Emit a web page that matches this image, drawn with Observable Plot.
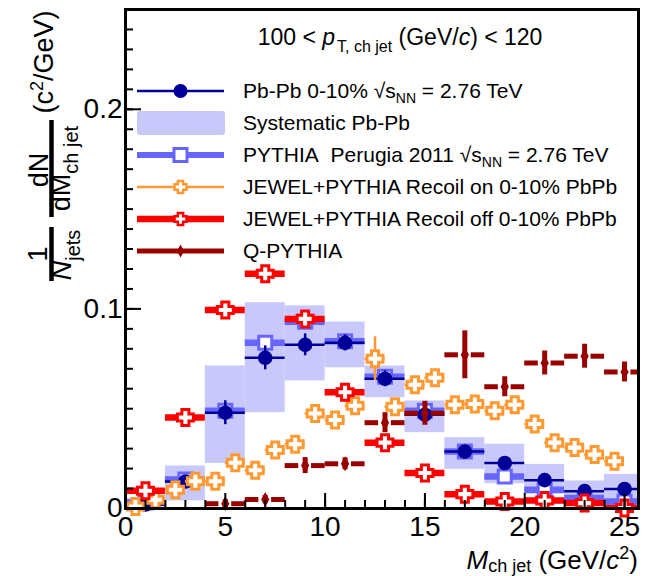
<!DOCTYPE html>
<html><head><meta charset="utf-8">
<script src="https://cdn.jsdelivr.net/npm/d3@7"></script>
<script src="https://cdn.jsdelivr.net/npm/@observablehq/plot@0.6"></script>
<style>body{margin:0;background:#fff} svg{display:block}</style>
</head><body><div id="chart"></div>
<script>
// ---- data ----
const binCenters = [1, 3, 5, 7, 9, 11, 13, 15, 17, 19, 21, 23, 25];
const binWidth = 2;
const pbpb    = [0.002, 0.0135, 0.048, 0.0755, 0.082, 0.083, 0.065, 0.047, 0.0285, 0.0228, 0.0142, 0.0087, 0.0098];
const pbpbErr = [0.001, 0.002, 0.006, 0.006, 0.0055, 0.004, 0.004, 0.003, 0.002, 0.002, 0.002, 0.0015, 0.002];
const sysLow  = [0.0, 0.0038, 0.0226, 0.048, 0.0639, 0.0705, 0.0555, 0.038, 0.0196, 0.0124, 0.0071, 0.0021, 0.0004];
const sysHigh = [0.005, 0.0213, 0.0714, 0.1031, 0.1015, 0.0934, 0.0714, 0.0539, 0.0355, 0.0322, 0.0221, 0.0138, 0.0171];
const pythia  = [0.003, 0.0145, 0.049, 0.083, 0.0935, 0.0838, 0.066, 0.049, 0.0285, 0.016, 0.0094, 0.0052, 0.0035];

const jewelOnCenters = [0.5, 1.5, 2.5, 3.5, 4.5, 5.5, 6.5, 7.5, 8.5, 9.5, 10.5, 11.5, 12.5, 13.5, 14.5, 15.5, 16.5, 17.5, 18.5, 19.5, 20.5, 21.5, 22.5, 23.5, 24.5];
const jewelOnWidth = 1;
const jewelOn = [0.001, 0.0044, 0.0094, 0.0136, 0.0136, 0.0229, 0.0192, 0.0293, 0.0322, 0.0476, 0.0443, 0.0515, 0.075, 0.051, 0.062, 0.0655, 0.052, 0.0524, 0.049, 0.052, 0.0423, 0.033, 0.0305, 0.027, 0.0237];
const jewelOnErr = [0.001, 0.001, 0.001, 0.001, 0.001, 0.0015, 0.0015, 0.0015, 0.0015, 0.002, 0.002, 0.002, 0.011, 0.002, 0.002, 0.002, 0.002, 0.002, 0.002, 0.002, 0.002, 0.002, 0.002, 0.002, 0.002];

const jewelOff = [0.0089, 0.0456, 0.0995, 0.1176, 0.095, 0.0582, 0.033, 0.0178, 0.0072, 0.0035, 0.004, 0.0027, 0.0003];

const qCenters = [5, 7, 9, 11, 13, 15, 17, 19, 21, 23, 25];
const qPythia  = [0.0024, 0.0045, 0.0215, 0.0224, 0.043, 0.0477, 0.077, 0.061, 0.0729, 0.0763, 0.0684];
const qPythiaErr = [0.002, 0.002, 0.004, 0.003, 0.005, 0.006, 0.012, 0.005, 0.006, 0.006, 0.005];
const qGap = 0.32; // half-gap of the bin bar around the marker (x units)

const xMajor = [0, 5, 10, 15, 20, 25];
const xMinor = d3.range(0, 26, 1);
const yMajor = [0, 0.1, 0.2];
const yMinor = d3.range(0, 0.2501, 0.01);

// ---- colours ----
const NAVY = "#000099", SYS = "#c8c8fa", PYC = "#6666ff", ORANGE = "#ff9933", RED = "#ff0000", DRED = "#990000";
const FONT = "'Liberation Sans', Arial, Helvetica, sans-serif";

// ---- tables ----
const pbData = binCenters.map((x, i) => ({x, y: pbpb[i], e: pbpbErr[i], lo: sysLow[i], hi: sysHigh[i]}));
const pyData = binCenters.map((x, i) => ({x, y: pythia[i]}));
const onData = jewelOnCenters.map((x, i) => ({x, y: jewelOn[i], e: jewelOnErr[i]}));
const offData = binCenters.map((x, i) => ({x, y: jewelOff[i]}));
const qData = qCenters.map((x, i) => ({x, y: qPythia[i], e: qPythiaErr[i]}));

// ---- custom marker shapes ----
function poly(pts) {
  return {draw(ctx, size) {
    const s = Math.sqrt(size / Math.PI);
    pts.forEach(([px, py], i) => i ? ctx.lineTo(px * s, py * s) : ctx.moveTo(px * s, py * s));
    ctx.closePath();
  }};
}
const A = 0.44;
const crossPts = [[-A,-1],[A,-1],[A,-A],[1,-A],[1,A],[A,A],[A,1],[-A,1],[-A,A],[-1,A],[-1,-A],[-A,-A]];
const crossSym = poly(crossPts);
const squarePts = [[-1,-1],[1,-1],[1,1],[-1,1]];
const squareSym = poly(squarePts);
const diamondPts = [[0,-1],[0.55,0],[0,1],[-0.55,0]];
const diamondSym = poly(diamondPts);

const svg = Plot.plot({
  width: 651, height: 576,
  marginLeft: 125, marginRight: 13, marginTop: 9, marginBottom: 68,
  x: {domain: [0, 25.7]},
  y: {domain: [0, 0.25]},
  style: {fontFamily: FONT, color: "black", background: "white"},
  marks: [
    // systematic boxes
    Plot.rect(pbData, {x1: d => d.x - binWidth / 2, x2: d => d.x + binWidth / 2, y1: "lo", y2: "hi", fill: SYS, clip: true}),
    // PYTHIA
    Plot.ruleY(pyData, {x1: d => d.x - binWidth / 2, x2: d => d.x + binWidth / 2, y: "y", stroke: PYC, strokeWidth: 6.5, clip: true}),
    Plot.dot(pyData, {x: "x", y: "y", symbol: squareSym, r: 6.5, stroke: PYC, strokeWidth: 3, fill: "white"}),
    // Pb-Pb data
    Plot.ruleY(pbData, {x1: d => d.x - binWidth / 2, x2: d => d.x + binWidth / 2, y: "y", stroke: NAVY, strokeWidth: 2.5, clip: true}),
    Plot.ruleX(pbData, {x: "x", y1: d => d.y - d.e, y2: d => d.y + d.e, stroke: NAVY, strokeWidth: 2.5}),
    Plot.dot(pbData, {x: "x", y: "y", r: 7.3, fill: NAVY, stroke: null}),
    // JEWEL recoil on
    Plot.ruleY(onData, {x1: d => d.x - jewelOnWidth / 2, x2: d => d.x + jewelOnWidth / 2, y: "y", stroke: ORANGE, strokeWidth: 2.5}),
    Plot.ruleX(onData, {x: "x", y1: d => d.y - d.e, y2: d => d.y + d.e, stroke: ORANGE, strokeWidth: 2.5}),
    Plot.dot(onData, {x: "x", y: "y", symbol: crossSym, r: 8, stroke: ORANGE, strokeWidth: 3, fill: "white"}),
    // JEWEL recoil off
    Plot.ruleY(offData, {x1: d => d.x - binWidth / 2, x2: d => d.x + binWidth / 2, y: "y", stroke: RED, strokeWidth: 6.5, clip: true}),
    Plot.dot(offData, {x: "x", y: "y", symbol: crossSym, r: 8, stroke: RED, strokeWidth: 3, fill: "white"}),
    // Q-PYTHIA
    Plot.ruleY(qData, {x1: d => d.x - binWidth / 2, x2: d => d.x - qGap, y: "y", stroke: DRED, strokeWidth: 5}),
    Plot.ruleY(qData, {x1: d => d.x + qGap, x2: d => d.x + binWidth / 2, y: "y", stroke: DRED, strokeWidth: 5, clip: true}),
    Plot.ruleX(qData, {x: "x", y1: d => d.y - d.e, y2: d => d.y + d.e, stroke: DRED, strokeWidth: 5}),
    Plot.dot(qData, {x: "x", y: "y", symbol: diamondSym, r: 7.5, fill: DRED, stroke: null}),
    // axes (inward ticks)
    Plot.axisX({ticks: xMinor, tickSize: -8, tickFormat: () => "", strokeWidth: 2, label: null}),
    Plot.axisX({ticks: xMajor, tickSize: -15, tickPadding: 23, tickFormat: d => String(d), fontSize: 28, strokeWidth: 2, label: null}),
    Plot.axisY({ticks: yMinor, tickSize: -8, tickFormat: () => "", strokeWidth: 2, label: null}),
    Plot.axisY({ticks: yMajor, tickSize: -16, tickPadding: 19, tickFormat: d => String(d), fontSize: 28, strokeWidth: 2, label: null}),
    Plot.frame({stroke: "black", strokeWidth: 3})
  ]
});
document.getElementById("chart").appendChild(svg);

// ---- annotations: title, legend, axis titles ----
const S = d3.select(svg);
const g = S.append("g").attr("font-family", FONT).attr("fill", "black");

function addText(parent, x, y, size, anchor, parts, rotate) {
  const t = parent.append("text")
    .attr("font-size", size).attr("text-anchor", anchor)
    .attr("transform", `translate(${x},${y})` + (rotate ? " rotate(-90)" : ""));
  parts.forEach(p => {
    const sp = t.append("tspan").text(p.t);
    if (p.italic) sp.attr("font-style", "italic");
    if (p.size) sp.attr("font-size", p.size);
    if (p.dy) sp.attr("dy", p.dy);
    if (p.dx) sp.attr("dx", p.dx);
  });
  return t;
}

// title
addText(g, 400, 45, 23, "middle", [
  {t: "100 < "}, {t: "p", italic: true},
  {t: "T, ch jet", size: 16, dy: 7, dx: 2},
  {t: " (GeV/", dy: -7}, {t: "c", italic: true}, {t: ") < 120"}
]);

// x-axis title
addText(g, 638, 569, 26, "end", [
  {t: "M", italic: true}, {t: "ch jet", size: 18, dy: 3},
  {t: " (GeV/", dy: -3}, {t: "c", italic: true}, {t: "2", size: 18, dy: -10}, {t: ")", dy: 10}
]);

// y-axis title (rotated fraction)
addText(g, 53, 62, 27, "middle", [{t: "("}, {t: "c"}, {t: "2", size: 18, dy: -10}, {t: "/GeV)", dy: 10}], true);
addText(g, 48, 170, 27, "middle", [{t: "dN"}], true);
g.append("line").attr("x1", 51.5).attr("x2", 51.5).attr("y1", 120).attr("y2", 217).attr("stroke", "black").attr("stroke-width", 4.5);
addText(g, 70, 168.5, 27, "middle", [{t: "dM"}, {t: "ch jet", size: 20, dy: 8}], true);
addText(g, 47, 254, 27, "middle", [{t: "1"}], true);
g.append("line").attr("x1", 51.5).attr("x2", 51.5).attr("y1", 227).attr("y2", 281).attr("stroke", "black").attr("stroke-width", 4.5);
addText(g, 71, 255, 27, "middle", [{t: "N", italic: true}, {t: "jets", size: 20, dy: 9}], true);

// legend
const LX1 = 137, LX2 = 224, LM = 180.5, LT = 243, FS = 21;
const rows = [91, 123, 155, 187, 219, 251];
function symPath(pts, s) {
  return "M" + pts.map(([a, b]) => `${a * s},${b * s}`).join("L") + "Z";
}
const lg = g.append("g");
// Pb-Pb
lg.append("line").attr("x1", LX1).attr("x2", LX2).attr("y1", rows[0]).attr("y2", rows[0]).attr("stroke", NAVY).attr("stroke-width", 2.5);
lg.append("circle").attr("cx", LM).attr("cy", rows[0]).attr("r", 7).attr("fill", NAVY);
addText(lg, LT, rows[0] + 7.3, FS, "start", [{t: "Pb-Pb 0-10% √"}, {t: "s"}, {t: "NN", size: 14, dy: 5}, {t: " = 2.76 TeV", dy: -5}]);
// Systematic
lg.append("rect").attr("x", LX1).attr("y", rows[1] - 12).attr("width", LX2 - LX1 + 1).attr("height", 24).attr("rx", 3).attr("fill", SYS);
addText(lg, LT, rows[1] + 7.3, FS, "start", [{t: "Systematic Pb-Pb"}]);
// PYTHIA
lg.append("line").attr("x1", LX1).attr("x2", LX2).attr("y1", rows[2]).attr("y2", rows[2]).attr("stroke", PYC).attr("stroke-width", 6);
lg.append("path").attr("d", symPath(squarePts, 6.5)).attr("transform", `translate(${LM},${rows[2]})`).attr("fill", "white").attr("stroke", PYC).attr("stroke-width", 3);
addText(lg, LT, rows[2] + 7.3, FS, "start", [{t: "PYTHIA\u00a0\u00a0Perugia 2011 √"}, {t: "s"}, {t: "NN", size: 14, dy: 5}, {t: " = 2.76 TeV", dy: -5}]);
// JEWEL on
lg.append("line").attr("x1", LX1).attr("x2", LX2).attr("y1", rows[3]).attr("y2", rows[3]).attr("stroke", ORANGE).attr("stroke-width", 2.5);
lg.append("path").attr("d", symPath(crossPts, 6)).attr("transform", `translate(${LM},${rows[3]})`).attr("fill", "white").attr("stroke", ORANGE).attr("stroke-width", 2.5);
addText(lg, LT, rows[3] + 7.3, FS, "start", [{t: "JEWEL+PYTHIA Recoil on 0-10% PbPb"}]);
// JEWEL off
lg.append("line").attr("x1", LX1).attr("x2", LX2).attr("y1", rows[4]).attr("y2", rows[4]).attr("stroke", RED).attr("stroke-width", 6.5);
lg.append("path").attr("d", symPath(crossPts, 6)).attr("transform", `translate(${LM},${rows[4]})`).attr("fill", "white").attr("stroke", RED).attr("stroke-width", 2.5);
addText(lg, LT, rows[4] + 7.3, FS, "start", [{t: "JEWEL+PYTHIA Recoil off 0-10% PbPb"}]);
// Q-PYTHIA
lg.append("line").attr("x1", LX1).attr("x2", LX2).attr("y1", rows[5]).attr("y2", rows[5]).attr("stroke", DRED).attr("stroke-width", 5);
lg.append("path").attr("d", symPath(diamondPts, 6.5)).attr("transform", `translate(${LM},${rows[5]})`).attr("fill", DRED);
addText(lg, LT, rows[5] + 7.3, FS, "start", [{t: "Q-PYTHIA"}]);
</script>
</body></html>
